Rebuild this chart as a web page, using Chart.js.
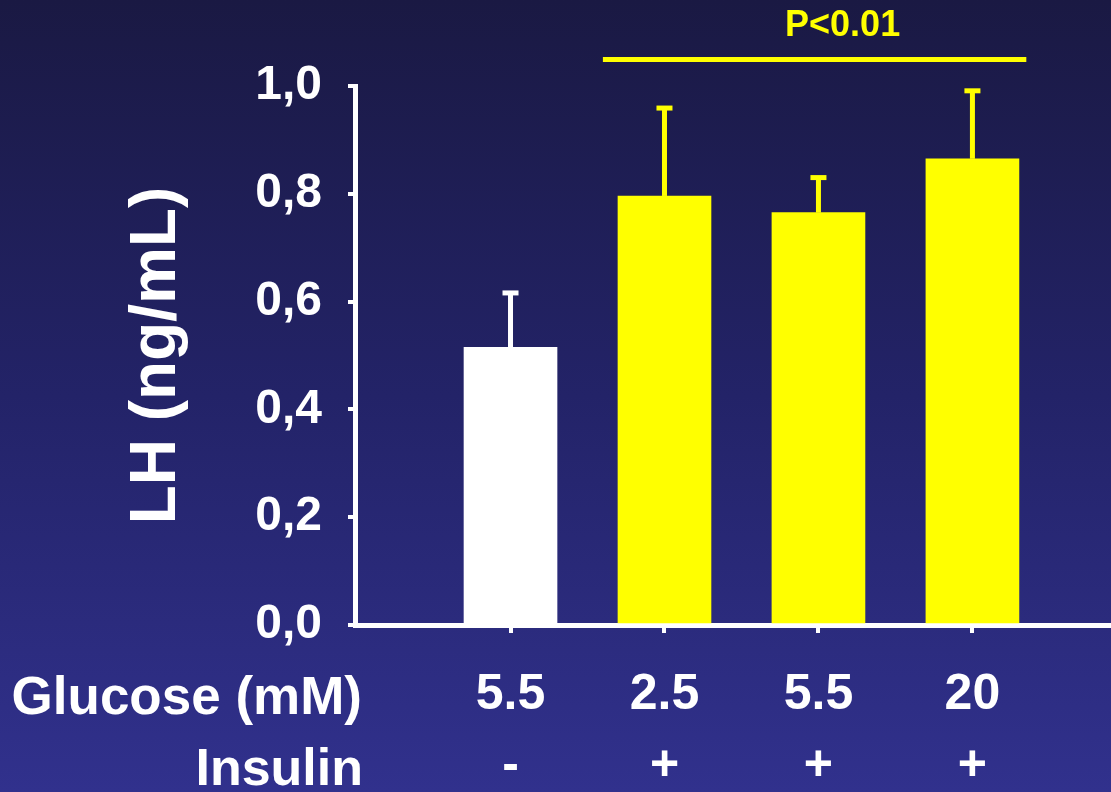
<!DOCTYPE html>
<html>
<head>
<meta charset="utf-8">
<script src="https://cdn.jsdelivr.net/npm/chart.js@4.4.1/dist/chart.umd.min.js"></script>
<style>
  html, body { margin: 0; padding: 0; }
  body { width: 1111px; height: 792px; overflow: hidden;
         background: linear-gradient(to bottom, #1a1943 0%, #232368 50%, #31318d 100%); }
  #wrap { width: 1111px; height: 792px; position: relative; }
</style>
</head>
<body>
<div id="wrap"><canvas id="c" width="1111" height="792"></canvas></div>
<script>
// ---- data ----
const glucoseLabels = ["5.5", "2.5", "5.5", "20"];
const insulinLabels = ["-", "+", "+", "+"];
const lhValues = [0.515, 0.796, 0.765, 0.865];
const lhErrors = [0.102, 0.164, 0.066, 0.127];
const barColors = ["#ffffff", "#ffff00", "#ffff00", "#ffff00"];
const yTickLabels = ["0,0", "0,2", "0,4", "0,6", "0,8", "1,0"];
const yTitle = "LH (ng/mL)";
const rowTitles = ["Glucose (mM)", "Insulin"];
const sigText = "P<0.01";

const FONT = "'Liberation Sans', Arial, Helvetica, sans-serif";
const positions = glucoseLabels.map((_, i) => i + 1);

const errorBarPlugin = {
  id: 'errorBars',
  afterDatasetsDraw(chart) {
    const ctx = chart.ctx;
    const meta = chart.getDatasetMeta(0);
    const ys = chart.scales.y;
    meta.data.forEach((el, i) => {
      const top = ys.getPixelForValue(lhValues[i] + lhErrors[i]);
      ctx.save();
      ctx.fillStyle = barColors[i];
      ctx.fillRect(el.x - 2.5, top, 5, el.y - top);
      ctx.fillRect(el.x - 8, top - 2, 16, 5);
      ctx.restore();
    });
  }
};

const annotPlugin = {
  id: 'annot',
  afterDraw(chart) {
    const ctx = chart.ctx;
    const xs = chart.scales.x;
    ctx.save();
    // significance line
    const x1 = xs.getPixelForValue(1.6), x2 = xs.getPixelForValue(4.35);
    ctx.fillStyle = '#ffff00';
    ctx.fillRect(x1, 57, x2 - x1, 5);
    ctx.font = 'bold 36px ' + FONT;
    ctx.textAlign = 'center';
    ctx.textBaseline = 'alphabetic';
    ctx.fillText(sigText, (x1 + x2) / 2 + 28, 36);
    // row titles
    ctx.fillStyle = '#ffffff';
    ctx.font = 'bold 53px ' + FONT;
    ctx.textAlign = 'right';
    ctx.fillText(rowTitles[0], 362, 714);
    ctx.font = 'bold 52px ' + FONT;
    ctx.fillText(rowTitles[1], 363, 785);
    ctx.restore();
  }
};

new Chart(document.getElementById('c'), {
  type: 'bar',
  data: {
    datasets: [{
      data: positions.map((p, i) => ({ x: p, y: lhValues[i] })),
      backgroundColor: barColors,
      borderWidth: 0,
      barThickness: 93
    }]
  },
  options: {
    responsive: false,
    animation: false,
    layout: { padding: { left: 125, top: 86, right: 0, bottom: 0 } },
    plugins: { legend: { display: false }, tooltip: { enabled: false } },
    scales: {
      x: {
        type: 'linear',
        min: -0.01,
        max: 4.9,
        offset: false,
        afterBuildTicks: (s) => { s.ticks = positions.map(v => ({ value: v })); },
        afterFit: (s) => { s.height = 167; },
        border: { display: true, color: '#ffffff', width: 5 },
        grid: { display: true, drawOnChartArea: false, drawTicks: true, tickLength: 8,
                color: '#ffffff', lineWidth: 4, offset: false },
        ticks: {
          autoSkip: false,
          maxRotation: 0,
          padding: 27,
          color: '#ffffff',
          font: { family: FONT, size: 50, weight: 'bold', lineHeight: 1.42 },
          callback: (v) => {
            const i = positions.indexOf(v);
            return i >= 0 ? [glucoseLabels[i], insulinLabels[i]] : '';
          }
        }
      },
      y: {
        min: 0,
        max: 1.0,
        afterFit: (s) => { s.width = 355 - 125; },
        border: { display: true, color: '#ffffff', width: 5 },
        grid: { display: true, drawOnChartArea: false, drawTicks: true, tickLength: 7,
                color: '#ffffff', lineWidth: 4 },
        ticks: {
          stepSize: 0.2,
          padding: 26,
          color: '#ffffff',
          font: { family: FONT, size: 48, weight: 'bold' },
          callback: (v) => yTickLabels[Math.round(v / 0.2)]
        },
        title: {
          display: true,
          text: yTitle,
          color: '#ffffff',
          padding: 0,
          font: { family: FONT, size: 64, weight: 'bold', lineHeight: 1.0 }
        }
      }
    }
  },
  plugins: [errorBarPlugin, annotPlugin]
});
</script>
</body>
</html>
